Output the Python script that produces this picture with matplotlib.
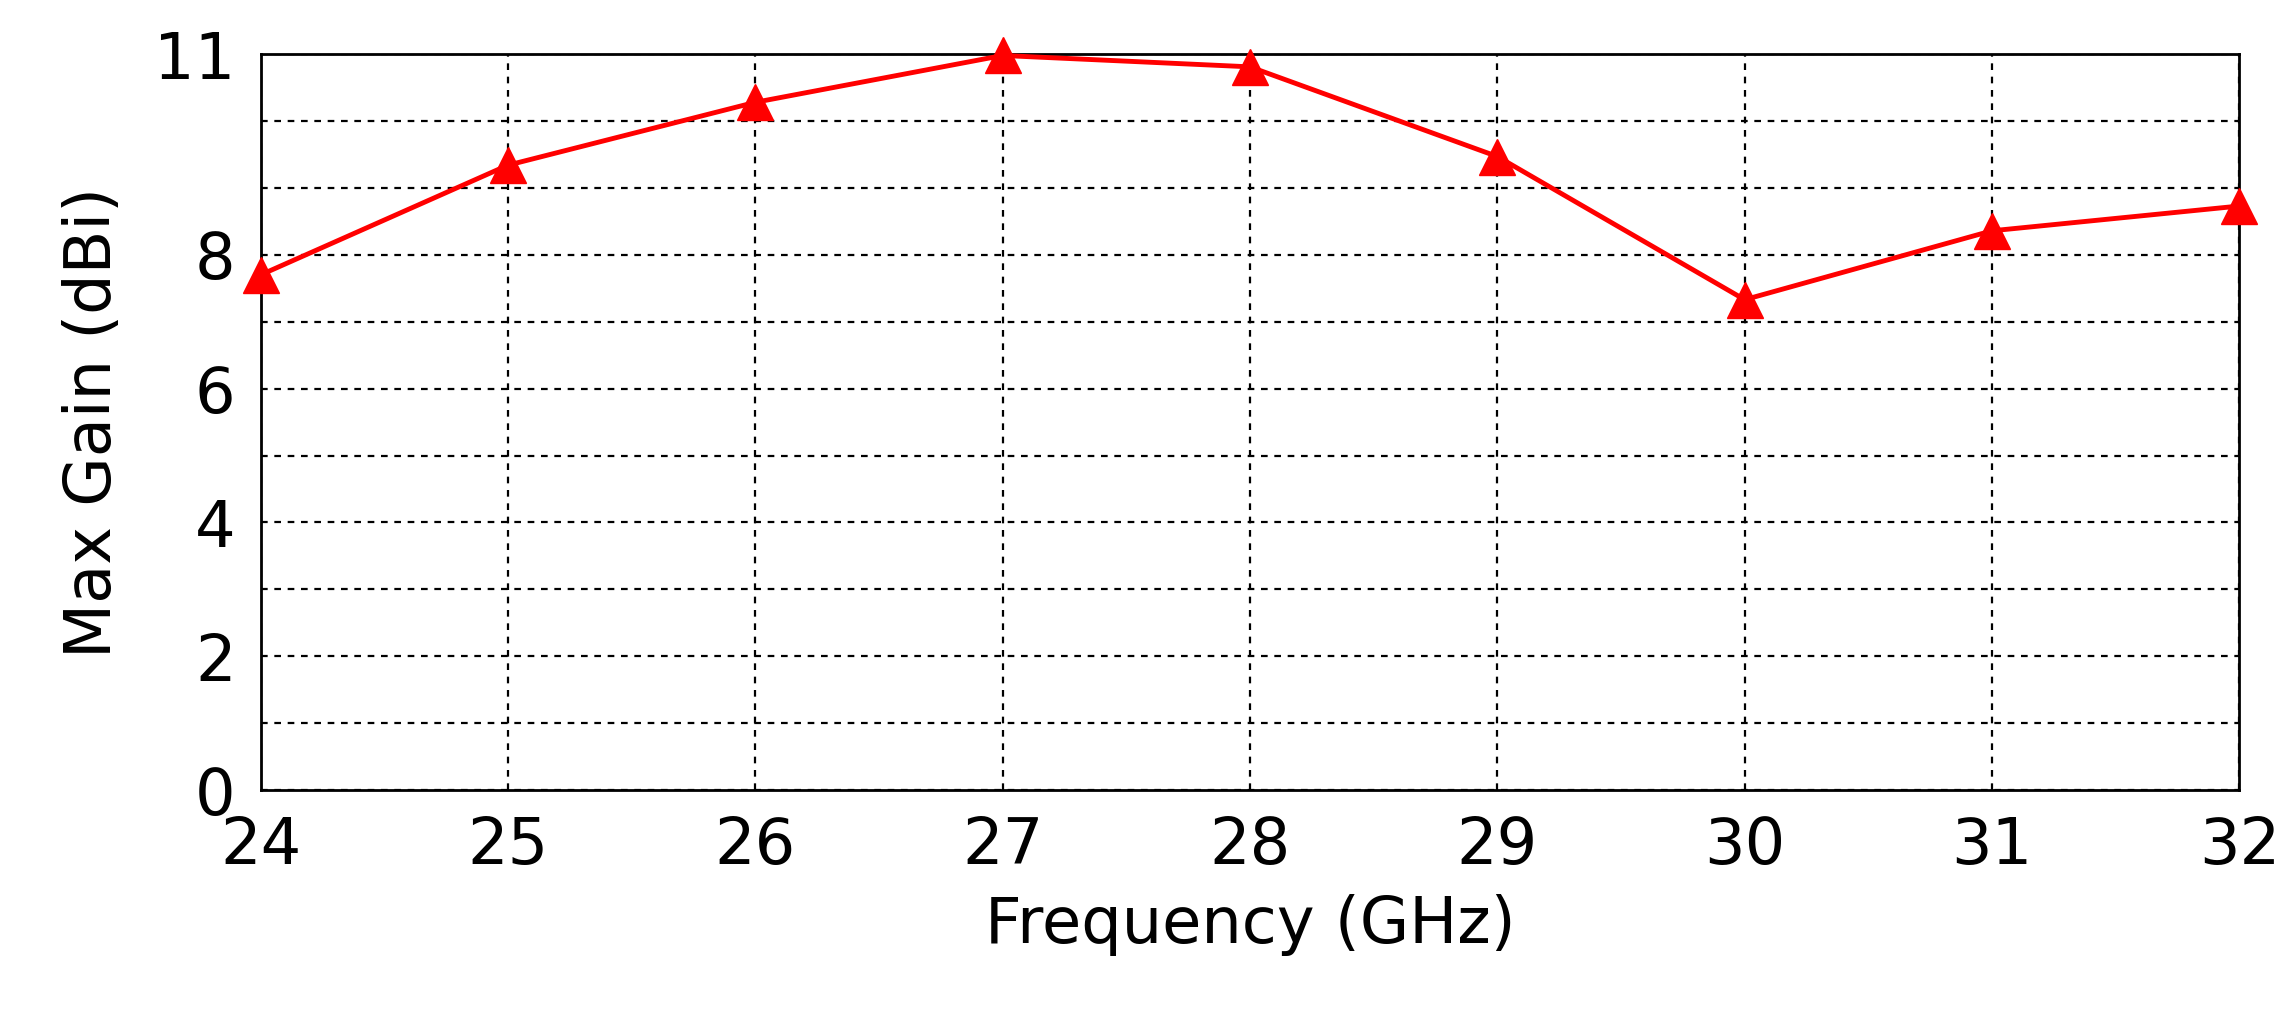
import matplotlib
matplotlib.use('Agg')
import matplotlib.pyplot as plt

freq = [24, 25, 26, 27, 28, 29, 30, 31, 32]
gain = [7.70, 9.34, 10.28, 10.98, 10.81, 9.47, 7.33, 8.36, 8.73]
y_labels = [0, 2, 4, 6, 8, 11]

W, H = 1568, 706  # reference layout measured in these units
fig = plt.figure(figsize=(22.95, 10.33), dpi=100)
ax = fig.add_axes([178 / W, 1 - 540 / H, (1530 - 178) / W, (540 - 37) / H])
ax.plot(freq, gain, color='#ff0000', linewidth=3.5, marker='^', markersize=26, clip_on=False, zorder=3)
ax.set_xlim(24, 32)
ax.set_ylim(0, 11)
ax.set_xticks(freq)
ax.set_yticks(range(0, 12))
ax.set_yticklabels([str(v) if v in y_labels else '' for v in range(0, 12)])
ax.grid(True, color='black', linestyle=(0, (3, 3)), linewidth=1.6)
ax.tick_params(labelsize=46, length=0, pad=18)
for s in ax.spines.values():
    s.set_linewidth(2)
ax.set_xlabel('Frequency (GHz)', fontsize=46, labelpad=12)
ax.set_ylabel('Max Gain (dBi)', fontsize=46, labelpad=22)
fig.savefig('out.png', dpi=100)
